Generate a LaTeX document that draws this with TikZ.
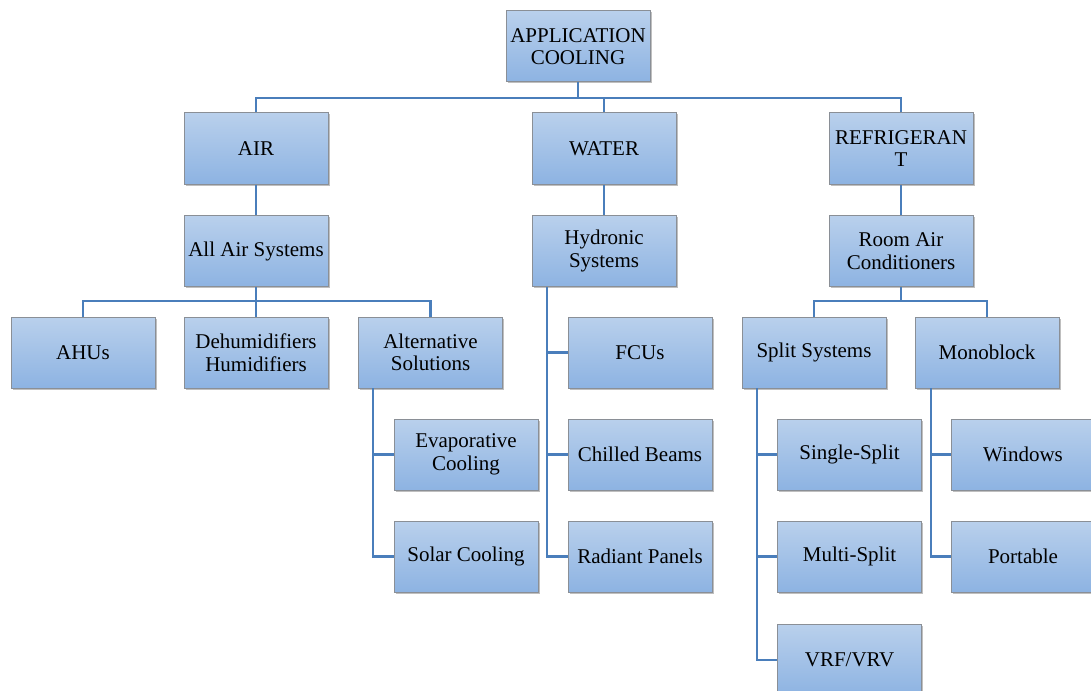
\documentclass[tikz,border=0pt]{standalone}
\usepackage{fontspec}
\setmainfont{Liberation Serif}
\usetikzlibrary{shadows}
\definecolor{boxtop}{HTML}{B9D0EC}
\definecolor{boxbot}{HTML}{8DB3E2}
\definecolor{boxline}{HTML}{8A8F96}
\definecolor{conn}{HTML}{4A7EBB}
\tikzset{
  bx/.style={draw=boxline, line width=1pt, top color=boxtop, bottom color=boxbot,
    minimum width=144pt, minimum height=71pt, inner sep=0pt, align=center,
    font=\rmfamily\fontsize{21}{22.5}\selectfont,
    drop shadow={shadow xshift=1.5pt, shadow yshift=-1.5pt, fill=black, opacity=0.25}},
  cn/.style={draw=conn, line width=2.7pt}
}
\begin{document}
\begin{tikzpicture}[x=1pt,y=-1pt]
\useasboundingbox (0,0) rectangle (1091,690);
\begin{scope}
\clip (0,0) rectangle (1091,690);
\coordinate (r1) at (578,98);
\coordinate (a1) at (256,301);
\coordinate (h1) at (547,287);
\coordinate (s1) at (373,388);
\coordinate (rc1) at (901,301);
\coordinate (sp1) at (757,388);
\coordinate (mb1) at (931,388);

\node[bx] (root) at (578,46.5) {APPLICATION\\COOLING};
\node[bx] (air) at (256,148.5) {AIR};
\node[bx] (water) at (604,148.5) {WATER};
\node[bx] (ref) at (901,148.5) {REFRIGERAN\\T};
\node[bx] (aas) at (256,251) {All Air Systems};
\node[bx] (hyd) at (604,251) {Hydronic\\Systems};
\node[bx] (rac) at (901,251) {Room Air\\Conditioners};
\node[bx] (ahu) at (83,352.5) {AHUs};
\node[bx] (deh) at (256,352.5) {Dehumidifiers\\Humidifiers};
\node[bx] (alt) at (430.5,352.5) {Alternative\\Solutions};
\node[bx] (fcu) at (640,352.5) {FCUs};
\node[bx] (spl) at (814,352.5) {Split Systems};
\node[bx] (mono) at (987,352.5) {Monoblock};
\node[bx] (evap) at (466,454.5) {Evaporative\\Cooling};
\node[bx] (solar) at (466,556.5) {Solar Cooling};
\node[bx] (chb) at (640,454.5) {Chilled Beams};
\node[bx] (rad) at (640,556.5) {Radiant Panels};
\node[bx] (ss) at (849.5,454.5) {Single-Split};
\node[bx] (ms) at (849.5,556.5) {Multi-Split};
\node[bx] (vrf) at (849.5,660) {VRF/VRV};
\node[bx] (win) at (1023,454.5) {Windows};
\node[bx] (port) at (1023,556.5) {Portable};
\end{scope}

\draw[cn] (root.south) -- (r1);
\draw[cn] (air.north) |- (r1);
\draw[cn] (ref.north) |- (r1);
\draw[cn] (water.north) -- (water.north |- r1);
\draw[cn] (air.south) -- (aas.north);
\draw[cn] (water.south) -- (hyd.north);
\draw[cn] (ref.south) -- (rac.north);

\draw[cn] (aas.south) -- (a1);
\draw[cn] (ahu.north) |- (a1);
\draw[cn] (alt.north) |- (a1);
\draw[cn] (deh.north) -- (a1);

\draw[cn] (h1) |- (rad.west);
\draw[cn] (h1 |- fcu.west) -- (fcu.west);
\draw[cn] (h1 |- chb.west) -- (chb.west);

\draw[cn] (s1) |- (solar.west);
\draw[cn] (s1 |- evap.west) -- (evap.west);

\draw[cn] (rac.south) -- (rc1);
\draw[cn] (spl.north) |- (rc1);
\draw[cn] (mono.north) |- (rc1);

\draw[cn] (sp1) |- (vrf.west);
\draw[cn] (sp1 |- ss.west) -- (ss.west);
\draw[cn] (sp1 |- ms.west) -- (ms.west);

\draw[cn] (mb1) |- (port.west);
\draw[cn] (mb1 |- win.west) -- (win.west);
\end{tikzpicture}
\end{document}
